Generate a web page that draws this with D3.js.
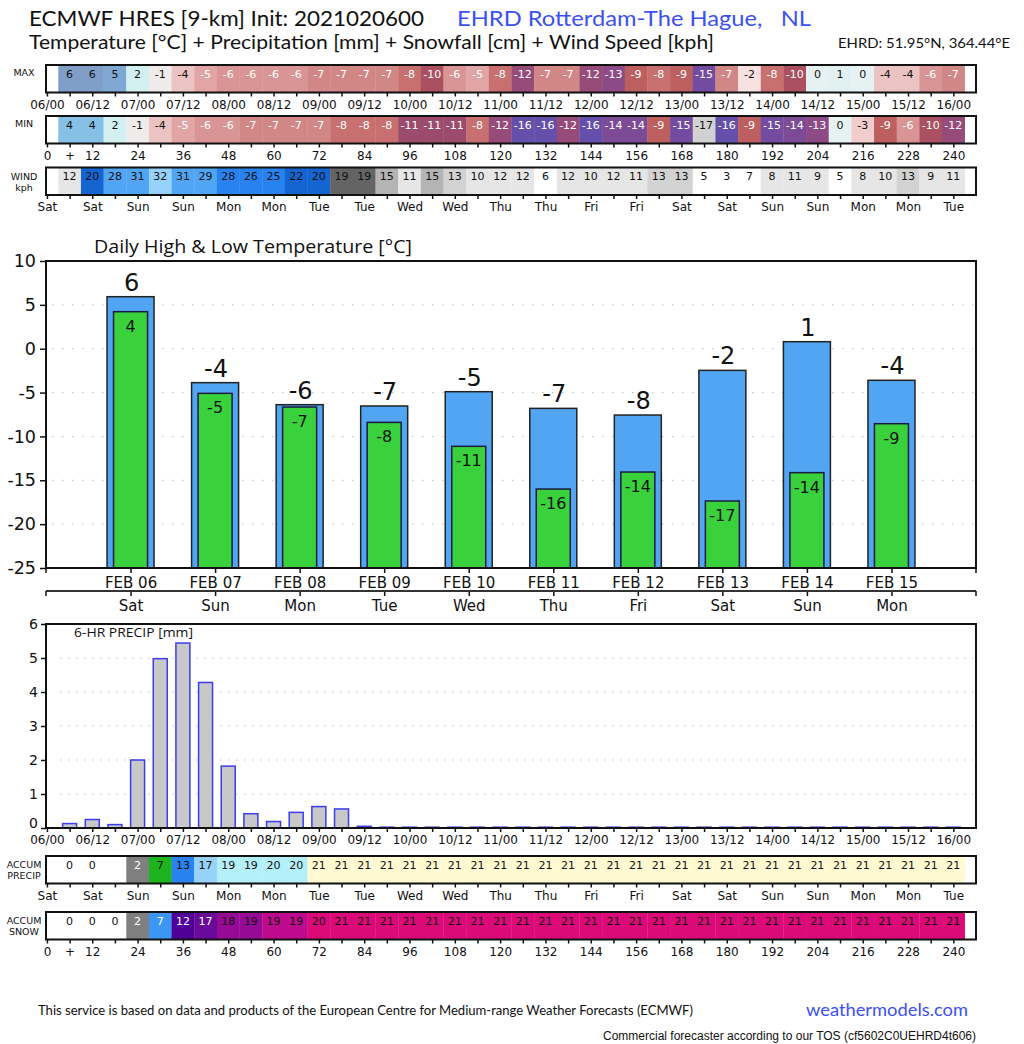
<!DOCTYPE html>
<html>
<head>
<meta charset="utf-8">
<script src="https://cdn.jsdelivr.net/npm/d3@7"></script>
<style>
    body { margin: 0; background: #fff; }
    svg text { font-family: "DejaVu Sans", sans-serif; fill: #111; }
    .cond { font-family: "DejaVu Sans Condensed", "DejaVu Sans", sans-serif; }
    .title { font-family: Lato, "Open Sans", sans-serif; white-space: pre; }
</style>
</head>
<body>
<svg id="chart" width="1024" height="1044"></svg>
<script>
// ---- data ----
// 6-hourly values, forecast hours 6 .. 240
var maxTemp = [6, 6, 5, 2, -1, -4, -5, -6, -6, -6, -6, -7, -7, -7, -7, -8, -10, -6, -5, -8,
    -12, -7, -7, -12, -13, -9, -8, -9, -15, -7, -2, -8, -10, 0, 1, 0, -4, -4, -6, -7];
var minTemp = [4, 4, 2, -1, -4, -5, -6, -6, -7, -7, -7, -7, -8, -8, -8, -11, -11, -11, -8, -12,
    -16, -16, -12, -16, -14, -14, -9, -15, -17, -16, -9, -15, -14, -13, 0, -3, -9, -6, -10, -12];
var windSpeed = [12, 20, 28.3, 31, 32, 31, 29, 27.7, 26, 25, 22, 20, 19, 19, 15, 11, 15, 13, 10, 12,
    12, 6, 12, 10, 12, 11, 13, 13, 5, 3, 7, 8, 11, 9, 5, 8, 10, 13, 9, 11];
var precip6h = [0.13, 0.25, 0.10, 2.0, 4.98, 5.44, 4.28, 1.82, 0.42, 0.19, 0.46, 0.63, 0.56, 0.05,
    0, 0, 0, 0, 0, 0, 0, 0, 0, 0, 0, 0, 0, 0, 0, 0, 0, 0, 0, 0, 0, 0, 0, 0, 0, 0];
var accumPrecip = [0, 0, null, 2, 7, 13, 17, 19, 19, 20, 20, 21, 21, 21, 21, 21, 21, 21, 21, 21,
    21, 21, 21, 21, 21, 21, 21, 21, 21, 21, 21, 21, 21, 21, 21, 21, 21, 21, 21, 21];
var accumSnow = [0, 0, 0, 2, 7, 12, 17, 18, 18.7, 19.2, 19.4, 19.7, 21, 21, 21, 21, 21, 21, 21, 21,
    21, 21, 21, 21, 21, 21, 21, 21, 21, 21, 21, 21, 21, 21, 21, 21, 21, 21, 21, 21];

// tick labels, every 12 hours from 06/00
var dateTicks = ['06/00', '06/12', '07/00', '07/12', '08/00', '08/12', '09/00', '09/12', '10/00', '10/12',
    '11/00', '11/12', '12/00', '12/12', '13/00', '13/12', '14/00', '14/12', '15/00', '15/12', '16/00'];
var dayTicks = ['Sat', 'Sat', 'Sun', 'Sun', 'Mon', 'Mon', 'Tue', 'Tue', 'Wed', 'Wed', 'Thu',
    'Thu', 'Fri', 'Fri', 'Sat', 'Sat', 'Sun', 'Sun', 'Mon', 'Mon', 'Tue'];
var hourTicks = ['0', '12', '24', '36', '48', '60', '72', '84', '96', '108', '120',
    '132', '144', '156', '168', '180', '192', '204', '216', '228', '240'];

// daily high / low
var days = ['FEB 06', 'FEB 07', 'FEB 08', 'FEB 09', 'FEB 10', 'FEB 11', 'FEB 12', 'FEB 13', 'FEB 14', 'FEB 15'];
var weekdays = ['Sat', 'Sun', 'Mon', 'Tue', 'Wed', 'Thu', 'Fri', 'Sat', 'Sun', 'Mon'];
var dailyHigh = [5.93, -3.87, -6.38, -6.53, -4.9, -6.8, -7.56, -2.47, 0.8, -3.6];
var dailyLow = [4.22, -5.09, -6.65, -8.4, -11.13, -16.0, -14.06, -17.36, -14.13, -8.55];

// ---- colour scales ----
var tempColor = d3.scaleThreshold()
    .domain(d3.range(-16.5, 6, 1))
    .range(['#d2d2d2', '#6450aa', '#734ba0', '#7d4b96', '#8c4b87', '#964b78', '#9b4b6b', '#aa5060',
        '#be5f5f', '#c87070', '#d28787', '#d99595', '#e1a5a5', '#ebc3c3', '#f2cdcd', '#fae1e1',
        '#f0ebeb', '#e6f2f2', '#e1f0f0', '#d2f0f0', '#a8dcf0', '#87c0e6', '#7fa8d2', '#7f9fc8']);
var windColor = d3.scaleThreshold()
    .domain([7.5, 12.5, 14.5, 17.5, 19.5, 24.5, 28, 31.5])
    .range(['#ffffff', '#e6e6e6', '#d2d2d2', '#b4b4b4', '#646464', '#1464d2', '#2882f0', '#50a5f5', '#96d2fa']);
var precipColor = d3.scaleThreshold()
    .domain([1, 5, 10, 15, 18, 20.5])
    .range(['#ffffff', '#808080', '#1eb41e', '#2882f0', '#96d2fa', '#b4f0fa', '#fffad2']);
var snowColor = d3.scaleThreshold()
    .domain([1, 5, 10, 15, 17.5, 19, 19.5])
    .range(['#ffffff', '#808080', '#3c96f5', '#500096', '#6a0a9a', '#960a96', '#be0a8c', '#dc0a78']);

var svg = d3.select('#chart');

// forecast hour scale shared by the strips and the precip chart
var xHour = d3.scaleLinear().domain([-0.25, 246]).range([46, 976]);
var cellHour = function (i) { return (i + 1) * 6; };
var tickHours = d3.range(0, 241, 6);
var stripH = 27.5;

// ---- titles ----
svg.append('text').attr('class', 'title').attr('x', 29).attr('y', 26)
    .attr('font-size', 22).attr('textLength', 395).attr('lengthAdjust', 'spacingAndGlyphs')
    .text('ECMWF HRES [9-km] Init: 2021020600');
svg.append('text').attr('class', 'title').attr('x', 457).attr('y', 26)
    .attr('font-size', 22).attr('textLength', 354).attr('lengthAdjust', 'spacingAndGlyphs')
    .style('fill', '#3c50f5')
    .text('EHRD Rotterdam-The Hague,   NL');
svg.append('text').attr('class', 'title').attr('x', 29).attr('y', 49)
    .attr('font-size', 19).attr('textLength', 685).attr('lengthAdjust', 'spacingAndGlyphs')
    .text('Temperature [°C] + Precipitation [mm] + Snowfall [cm] + Wind Speed [kph]');
svg.append('text').attr('class', 'title').attr('x', 838).attr('y', 48)
    .attr('font-size', 13).attr('textLength', 172).attr('lengthAdjust', 'spacingAndGlyphs')
    .text('EHRD: 51.95°N, 364.44°E');

// format functions for the strip axes (ticks every 6 h, labels every 12 h)
function dateFmt(h) { return h % 12 === 0 ? dateTicks[h / 12] : ''; }
function dayFmt(h) { return h % 12 === 0 ? dayTicks[h / 12] : ''; }
function hourFmt(h) { return h === 6 ? '+' : (h % 12 === 0 ? hourTicks[h / 12] : ''); }

function timeAxis(g, y, fmt) {
    var ax = g.append('g')
        .attr('class', 'cond')
        .attr('transform', 'translate(0,' + y + ')')
        .call(d3.axisBottom(xHour).tickValues(tickHours).tickSize(4).tickPadding(3.5).tickFormat(fmt));
    ax.select('.domain').remove();
    ax.selectAll('line').attr('stroke', '#111').attr('stroke-width', 1.5);
    ax.selectAll('text').attr('font-size', 12).style('fill', '#111');
    return ax;
}

function drawStrip(top, values, fill, textFill, labels, fmt) {
    var g = svg.append('g').attr('transform', 'translate(0,' + top + ')');

    g.selectAll('.cell')
        .data(values)
        .enter()
        .append('rect')
        .attr('class', 'cell')
        .attr('x', function (d, i) { return xHour(cellHour(i) - 3); })
        .attr('width', function (d, i) { return xHour(cellHour(i) + 3) - xHour(cellHour(i) - 3) + 0.3; })
        .attr('y', 0)
        .attr('height', stripH)
        .attr('fill', function (d) { return d == null ? '#fff' : fill(d); });

    g.selectAll('.val')
        .data(values)
        .enter()
        .append('text')
        .attr('class', 'val')
        .attr('x', function (d, i) { return xHour(cellHour(i)); })
        .attr('y', 12.5)
        .attr('text-anchor', 'middle')
        .attr('font-size', 11)
        .style('fill', function (d) { return d == null ? '#111' : textFill(d); })
        .text(function (d) { return d == null ? '' : String(Math.round(d)); });

    g.append('rect')
        .attr('x', 46).attr('y', 0)
        .attr('width', 930).attr('height', stripH)
        .attr('fill', 'none').attr('stroke', '#111').attr('stroke-width', 2);

    labels.forEach(function (t, k) {
        g.append('text')
            .attr('x', 24)
            .attr('y', labels.length === 1 ? 11 : 12 + k * 11)
            .attr('text-anchor', 'middle')
            .attr('font-size', 9.5)
            .text(t);
    });

    timeAxis(g, stripH, fmt);
}

function tempText(d) { return (d < -4.5 && d >= -16.5) ? '#fff' : '#111'; }

drawStrip(65, maxTemp, tempColor, tempText, ['MAX'], dateFmt);
drawStrip(116, minTemp, tempColor, tempText, ['MIN'], hourFmt);
drawStrip(167.5, windSpeed, windColor, function () { return '#111'; }, ['WIND', 'kph'], dayFmt);
drawStrip(856, accumPrecip, precipColor,
    function (d) { return (d >= 1 && d < 5) ? '#fff' : '#111'; }, ['ACCUM', 'PRECIP'], dayFmt);
drawStrip(912, accumSnow, snowColor,
    function (d) { return (d >= 1 && d < 17.5) ? '#fff' : '#111'; }, ['ACCUM', 'SNOW'], hourFmt);

// ---- daily high & low temperature ----
var tTop = 261, tBottom = 568;
var xDay = d3.scaleLinear().domain([-1, 10]).range([46, 976]);
var yT = d3.scaleLinear().domain([-25, 10]).range([tBottom, tTop]);

var tempG = svg.append('g');

tempG.selectAll('.grid')
    .data([5, 0, -5, -10, -15, -20])
    .enter()
    .append('line')
    .attr('x1', 52).attr('x2', 975)
    .attr('y1', function (d) { return yT(d); })
    .attr('y2', function (d) { return yT(d); })
    .attr('stroke', '#bbb').attr('stroke-width', 1).attr('stroke-dasharray', '1.5,8.5');

tempG.selectAll('.hi')
    .data(dailyHigh)
    .enter()
    .append('rect')
    .attr('x', function (d, i) { return xDay(i) - 23.5; })
    .attr('width', 47)
    .attr('y', function (d) { return yT(d); })
    .attr('height', function (d) { return tBottom - yT(d); })
    .attr('fill', '#52a5f2').attr('stroke', '#222').attr('stroke-width', 1.5);

tempG.selectAll('.lo')
    .data(dailyLow)
    .enter()
    .append('rect')
    .attr('x', function (d, i) { return xDay(i) - 17; })
    .attr('width', 34)
    .attr('y', function (d) { return yT(d); })
    .attr('height', function (d) { return tBottom - yT(d); })
    .attr('fill', '#3ad23c').attr('stroke', '#1a1a40').attr('stroke-width', 1.5);

tempG.selectAll('.hiLab')
    .data(dailyHigh)
    .enter()
    .append('text')
    .attr('x', function (d, i) { return xDay(i) + 1; })
    .attr('y', function (d) { return yT(d) - 6; })
    .attr('text-anchor', 'middle')
    .attr('font-size', 24)
    .text(function (d) { return String(Math.round(d)); });

tempG.selectAll('.loLab')
    .data(dailyLow)
    .enter()
    .append('text')
    .attr('x', function (d, i) { return xDay(i); })
    .attr('y', function (d) { return yT(d) + 20; })
    .attr('text-anchor', 'middle')
    .attr('font-size', 16)
    .text(function (d) { return String(Math.round(d)); });

// frame
tempG.append('rect')
    .attr('x', 46).attr('y', tTop).attr('width', 930).attr('height', tBottom - tTop)
    .attr('fill', 'none').attr('stroke', '#111').attr('stroke-width', 2);

var yAxisT = tempG.append('g')
    .attr('class', 'cond')
    .attr('transform', 'translate(46,0)')
    .call(d3.axisLeft(yT).tickValues([10, 5, 0, -5, -10, -15, -20, -25]).tickSize(6).tickPadding(4)
        .tickFormat(function (d) { return String(d); }));
yAxisT.select('.domain').remove();
yAxisT.selectAll('line').attr('stroke', '#111').attr('stroke-width', 1.5);
yAxisT.selectAll('text').attr('font-size', 17.5).style('fill', '#111');

var dayAxis = tempG.append('g')
    .attr('class', 'cond')
    .attr('transform', 'translate(0,' + tBottom + ')')
    .call(d3.axisBottom(xDay).tickValues(d3.range(0, 10)).tickSize(5).tickPadding(4)
        .tickFormat(function (d) { return days[d]; }));
dayAxis.select('.domain').remove();
dayAxis.selectAll('line').attr('stroke', '#111').attr('stroke-width', 1.5);
dayAxis.selectAll('text').attr('font-size', 15).style('fill', '#111');

var wdAxis = tempG.append('g')
    .attr('class', 'cond')
    .attr('transform', 'translate(0,591)')
    .call(d3.axisBottom(xDay).tickValues(d3.range(0, 10)).tickSize(5).tickPadding(4)
        .tickFormat(function (d) { return weekdays[d]; }));
wdAxis.select('.domain').remove();
wdAxis.selectAll('line').attr('stroke', '#111').attr('stroke-width', 1.5);
wdAxis.selectAll('text').attr('font-size', 15).style('fill', '#111');
tempG.append('line').attr('x1', 46).attr('x2', 976).attr('y1', 591).attr('y2', 591)
    .attr('stroke', '#333').attr('stroke-width', 2);
[46, 976].forEach(function (x) {
    tempG.append('line').attr('x1', x).attr('x2', x).attr('y1', 591).attr('y2', 596)
        .attr('stroke', '#111').attr('stroke-width', 1.5);
    tempG.append('line').attr('x1', x).attr('x2', x).attr('y1', tBottom).attr('y2', tBottom + 5)
        .attr('stroke', '#111').attr('stroke-width', 1.5);
});

tempG.append('text')
    .attr('x', 94).attr('y', 253)
    .attr('font-size', 17.5).attr('textLength', 318).attr('lengthAdjust', 'spacingAndGlyphs')
    .style('font-family', '"Open Sans", sans-serif')
    .text('Daily High & Low Temperature [°C]');

// ---- 6-hour precipitation ----
var pTop = 624, pBottom = 828;
var yP = d3.scaleLinear().domain([0, 6]).range([pBottom, pTop]);
var pG = svg.append('g');

pG.selectAll('.grid')
    .data([1, 2, 3, 4, 5])
    .enter()
    .append('line')
    .attr('x1', 60).attr('x2', 975)
    .attr('y1', function (d) { return yP(d); })
    .attr('y2', function (d) { return yP(d); })
    .attr('stroke', '#bbb').attr('stroke-width', 1).attr('stroke-dasharray', '1.5,6.5');

// zero bars still show their outline along the base, so keep a hairline height
pG.selectAll('.bar')
    .data(precip6h)
    .enter()
    .append('rect')
    .attr('class', 'bar')
    .attr('x', function (d, i) { return xHour(cellHour(i) - 1.85); })
    .attr('width', function (d, i) { return xHour(cellHour(i) + 1.85) - xHour(cellHour(i) - 1.85); })
    .attr('y', function (d) { return Math.min(yP(d), pBottom - 0.8); })
    .attr('height', function (d) { return Math.max(pBottom - yP(d), 0.8); })
    .attr('fill', '#c8c8c8').attr('stroke', '#3c3cf0').attr('stroke-width', 1.5);

pG.append('rect')
    .attr('x', 46).attr('y', pTop).attr('width', 930).attr('height', pBottom - pTop)
    .attr('fill', 'none').attr('stroke', '#111').attr('stroke-width', 2);

var yAxisP = pG.append('g')
    .attr('class', 'cond')
    .attr('transform', 'translate(46,0)')
    .call(d3.axisLeft(yP).tickValues([0, 1, 2, 3, 4, 5, 6]).tickSize(5).tickPadding(3)
        .tickFormat(function (d) { return String(d); }));
yAxisP.select('.domain').remove();
yAxisP.selectAll('line').attr('stroke', '#111').attr('stroke-width', 1.5);
yAxisP.selectAll('text').attr('font-size', 14).style('fill', '#111')
    .attr('dy', function (d) { return d === 0 ? '-0.05em' : '0.32em'; });

timeAxis(pG, pBottom, dateFmt);

pG.append('text')
    .attr('x', 74).attr('y', 637)
    .attr('font-size', 12.5)
    .attr('textLength', 119).attr('lengthAdjust', 'spacingAndGlyphs')
    .style('font-family', '"Open Sans", sans-serif')
    .text('6-HR PRECIP [mm]');

// ---- footer ----
svg.append('text').attr('class', 'title').attr('x', 38).attr('y', 1015)
    .attr('font-size', 12.5).attr('textLength', 655).attr('lengthAdjust', 'spacingAndGlyphs')
    .text('This service is based on data and products of the European Centre for Medium-range Weather Forecasts (ECMWF)');
svg.append('text').attr('class', 'title').attr('x', 806).attr('y', 1016)
    .attr('font-size', 17).attr('textLength', 162).attr('lengthAdjust', 'spacingAndGlyphs')
    .style('fill', '#3c50f5')
    .text('weathermodels.com');
svg.append('text').attr('x', 603).attr('y', 1040)
    .attr('font-size', 12).attr('textLength', 373).attr('lengthAdjust', 'spacingAndGlyphs')
    .style('font-family', '"Liberation Sans", Arial, sans-serif')
    .text('Commercial forecaster according to our TOS (cf5602C0UEHRD4t606)');
</script>
</body>
</html>
